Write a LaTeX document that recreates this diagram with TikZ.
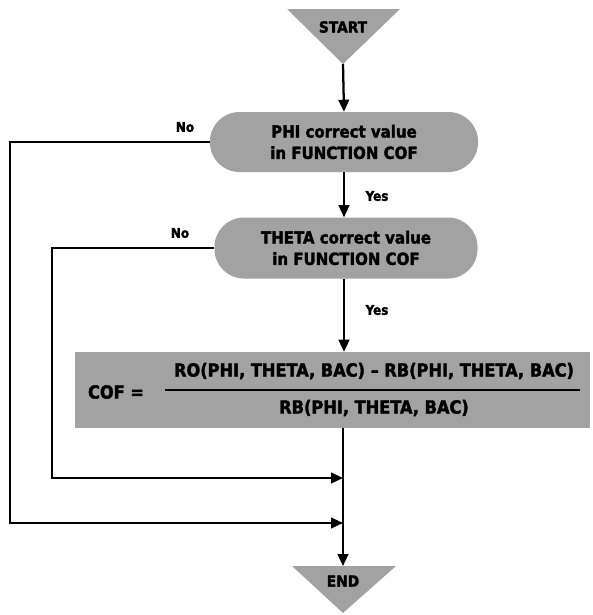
\documentclass[tikz,border=0pt]{standalone}
\usepackage{fontspec}
\setmainfont{DejaVu Sans Condensed}[BoldFont={DejaVu Sans Condensed Bold},BoldFeatures={FakeBold=2}]
\usetikzlibrary{arrows.meta}
\definecolor{boxgray}{HTML}{A2A2A2}
\tikzset{
  flow/.style={line width=1.7pt, draw=black},
  arr/.style={flow, -{Triangle[length=9pt,width=8pt]}},
  pill/.style={fill=boxgray, rounded corners=22pt, minimum width=268*0.75pt, minimum height=60*0.75pt, align=center, font=\bfseries\fontsize{12.5}{16}\selectfont, inner sep=0pt},
  lbl/.style={font=\bfseries\fontsize{10}{12}\selectfont, inner sep=0pt},
  txt/.style={font=\bfseries\fontsize{11.5}{14}\selectfont, inner sep=0pt},
  ftxt/.style={font=\bfseries\fontsize{13.5}{16}\selectfont, inner sep=0pt}
}
\begin{document}
\begin{tikzpicture}[x=0.75pt,y=-0.75pt]
\useasboundingbox (0,0) rectangle (593,615);
% START triangle
\fill[boxgray] (287,9) -- (400,9) -- (343,64) -- cycle;
\node[txt] (start) at (343,27) {START};
\coordinate (startapex) at (343,64);
% pills
\node[pill] (p1) at (344,142) {PHI correct value\\in FUNCTION COF};
\node[pill, minimum width=263*0.75pt, minimum height=61*0.75pt] (p2) at (346,248) {THETA correct value\\in FUNCTION COF};
% formula box
\node[fill=boxgray, minimum width=515*0.75pt, minimum height=76*0.75pt, inner sep=0pt] (box) at (332.5,390) {};
\node[ftxt] (cof) at (116,392) {COF =};
\node[ftxt] (num) at (374,371) {RO(PHI, THETA, BAC) -- RB(PHI, THETA, BAC)};
\node[ftxt] (den) at (374,408) {RB(PHI, THETA, BAC)};
\coordinate (fl) at (165,390);
\coordinate (fr) at (580,390);
\draw[flow, line width=2.2pt] (fl) -- (fr);
% END triangle
\fill[boxgray] (292,566) -- (396,566) -- (343,613) -- cycle;
\node[txt] (end) at (343,581) {END};
\coordinate (endtop) at (343,566);
% column coordinates
\coordinate (boxbot) at (343,428);
\coordinate (j2) at (343,478);
\coordinate (j1) at (343,523);
\coordinate (o1) at (10,142);
\coordinate (o2) at (10,523);
\coordinate (i1) at (52,248);
\coordinate (i2) at (52,478);
% arrows
\draw[arr] (startapex) -- (p1.north);
\draw[arr] (p1.south) -- (p2.north -| p1.south);
\draw[arr] (p2.south -| p1.south) -- (box.north -| p1.south);
\draw[arr] (boxbot) -- (endtop);
\draw[arr] (p1.west) -- (o1) -- (o2) -- (j1);
\draw[arr] (p2.west) -- (i1) -- (i2) -- (j2);
% labels
\node[lbl] (no1) at (185,127) {No};
\node[lbl] (no2) at (180,233) {No};
\node[lbl] (yes1) at (377,196) {Yes};
\node[lbl] (yes2) at (377,310) {Yes};
\end{tikzpicture}
\end{document}
